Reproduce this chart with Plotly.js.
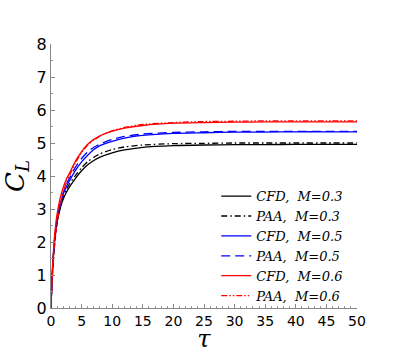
<!DOCTYPE html>
<html>
<head>
<meta charset="utf-8">
<script src="https://cdn.plot.ly/plotly-3.0.1.min.js"></script>
<style>html,body{margin:0;padding:0;background:#fff;}#chart{width:407px;height:353px;}</style>
</head>
<body>
<div id="chart"></div>
<script>
const tau = [0, 0.1, 0.25, 0.5, 0.75, 1, 1.5, 2, 2.5, 3, 4, 5, 6, 7, 8, 10, 12, 15, 20, 25, 30, 35, 40, 45, 50];
const cfd03 = [0, 0.55, 1.15, 1.85, 2.3, 2.6, 3.02, 3.3, 3.5, 3.66, 3.93, 4.16, 4.34, 4.47, 4.57, 4.7, 4.79, 4.87, 4.92, 4.94, 4.95, 4.95, 4.96, 4.96, 4.96];
const paa03 = [0, 0.5, 1.05, 1.75, 2.25, 2.58, 3.05, 3.36, 3.58, 3.75, 4.02, 4.25, 4.44, 4.57, 4.67, 4.8, 4.88, 4.94, 4.98, 4.99, 5.0, 5.0, 5.0, 5.0, 5.0];
const cfd05 = [0, 0.58, 1.2, 1.92, 2.38, 2.7, 3.15, 3.45, 3.67, 3.85, 4.17, 4.43, 4.63, 4.8, 4.92, 5.05, 5.15, 5.23, 5.29, 5.31, 5.33, 5.33, 5.34, 5.34, 5.34];
const paa05 = [0, 0.5, 1.08, 1.8, 2.3, 2.65, 3.15, 3.5, 3.74, 3.93, 4.27, 4.53, 4.73, 4.87, 4.97, 5.11, 5.2, 5.27, 5.32, 5.34, 5.35, 5.35, 5.35, 5.35, 5.35];
const cfd06 = [0, 0.62, 1.25, 2.0, 2.5, 2.85, 3.33, 3.65, 3.9, 4.08, 4.45, 4.74, 4.96, 5.11, 5.22, 5.36, 5.45, 5.53, 5.6, 5.62, 5.63, 5.64, 5.64, 5.64, 5.64];
const paa06 = [0, 0.45, 1.0, 1.7, 2.22, 2.6, 3.12, 3.5, 3.8, 4.0, 4.4, 4.71, 4.94, 5.09, 5.21, 5.37, 5.47, 5.56, 5.62, 5.65, 5.66, 5.67, 5.67, 5.67, 5.67];
const names = ['CFD,\u00a0\u00a0M=0.3', 'PAA,\u00a0\u00a0M=0.3', 'CFD,\u00a0\u00a0M=0.5', 'PAA,\u00a0\u00a0M=0.5', 'CFD,\u00a0\u00a0M=0.6', 'PAA,\u00a0\u00a0M=0.6'];
const xTicks = [0, 5, 10, 15, 20, 25, 30, 35, 40, 45, 50];

const series = [cfd03, paa03, cfd05, paa05, cfd06, paa06];
const colors = ['#000000', '#000000', '#0000ff', '#0000ff', '#ff0000', '#ff0000'];
const dashes = ['solid', '6px,3px,1.5px,3px', 'solid', '9px,5px', 'solid', '6px,2px,1.5px,2px,1.5px,2px'];

const traces = series.map((s, i) => ({
  x: tau, y: s, name: names[i], type: 'scatter', mode: 'lines',
  line: {color: colors[i], width: 1.3, dash: dashes[i], shape: 'spline', smoothing: 0.6}
}));

const layout = {
  width: 407, height: 353,
  margin: {l: 51, r: 50, t: 44, b: 45},
  paper_bgcolor: '#fff', plot_bgcolor: '#fff',
  showlegend: true,
  legend: {x: 0.54, y: -0.012, xanchor: 'left', yanchor: 'bottom', bgcolor: 'rgba(0,0,0,0)',
    font: {family: 'DejaVu Serif', size: 13, color: '#000', style: 'italic'}, tracegroupgap: 0},
  xaxis: {range: [0, 50], tickvals: xTicks, showgrid: false, zeroline: false,
    showline: true, linecolor: '#888', linewidth: 1, ticks: 'inside', ticklen: 4, tickcolor: '#888',
    minor: {dtick: 1, ticks: 'inside', ticklen: 2, tickcolor: '#999'},
    tickfont: {family: 'DejaVu Sans', size: 14, color: '#000'},
    title: {text: 'τ', font: {family: 'DejaVu Serif', size: 24, color: '#000', style: 'italic'}, standoff: 6}},
  yaxis: {range: [0, 8], dtick: 1, showgrid: false, zeroline: false,
    showline: true, linecolor: '#888', linewidth: 1, ticks: 'inside', ticklen: 4, tickcolor: '#888',
    minor: {dtick: 0.5, ticks: 'inside', ticklen: 2, tickcolor: '#999'},
    tickfont: {family: 'DejaVu Sans', size: 16, color: '#000'},
    title: {text: 'C<sub>L</sub>', font: {family: 'DejaVu Serif', size: 26, color: '#000', style: 'italic'}, standoff: 6}}
};
Plotly.newPlot('chart', traces, layout, {displayModeBar: false, staticPlot: true});
</script>
</body>
</html>
